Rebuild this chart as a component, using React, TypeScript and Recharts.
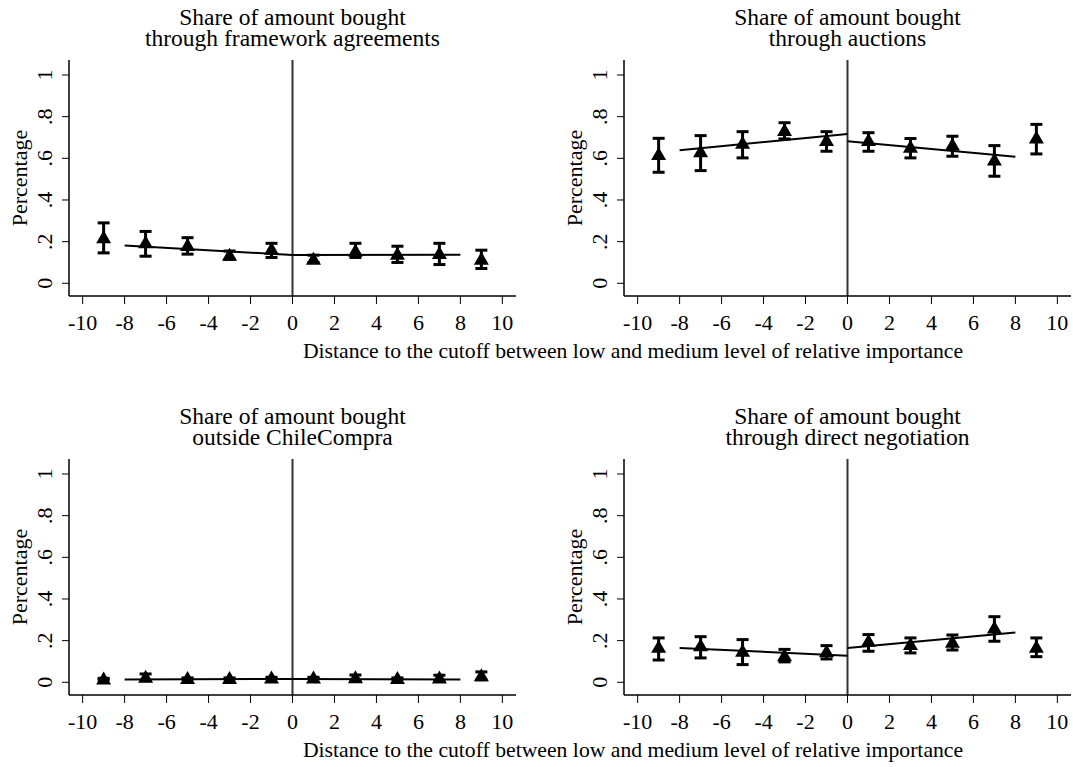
import React from 'react'
import {
  ComposedChart,
  Scatter,
  ErrorBar,
  XAxis,
  YAxis,
  ReferenceLine,
} from 'recharts'

const SERIF = '"Liberation Serif", "Times New Roman", Times, serif'

// bins (distance to cutoff)
const bins = [-9, -7, -5, -3, -1, 1, 3, 5, 7, 9]
const xTicks = [-10, -8, -6, -4, -2, 0, 2, 4, 6, 8, 10]
const yTicks = [0, 0.2, 0.4, 0.6, 0.8, 1]
const yTickLabels = ['0', '.2', '.4', '.6', '.8', '1']
const fitLeftX = [-8, 0]
const fitRightX = [0, 8]

// framework agreements
const fwMean = [0.219, 0.195, 0.182, 0.135, 0.163, 0.116, 0.155, 0.14, 0.143, 0.116]
const fwLo = [0.146, 0.13, 0.14, 0.115, 0.124, 0.1, 0.124, 0.1, 0.09, 0.071]
const fwHi = [0.29, 0.249, 0.219, 0.155, 0.192, 0.135, 0.192, 0.178, 0.192, 0.159]
const fwFitL = [0.181, 0.136]
const fwFitR = [0.136, 0.137]

// auctions
const auMean = [0.618, 0.632, 0.672, 0.733, 0.685, 0.685, 0.653, 0.664, 0.592, 0.698]
const auLo = [0.533, 0.541, 0.602, 0.693, 0.634, 0.634, 0.602, 0.61, 0.514, 0.621]
const auHi = [0.696, 0.709, 0.728, 0.771, 0.728, 0.723, 0.695, 0.706, 0.661, 0.763]
const auFitL = [0.639, 0.717]
const auFitR = [0.682, 0.608]

// outside ChileCompra
const ocMean = [0.016, 0.024, 0.018, 0.018, 0.021, 0.021, 0.022, 0.018, 0.021, 0.031]
const ocLo = [0.013, 0.008, 0.015, 0.015, 0.018, 0.018, 0.009, 0.015, 0.008, 0.012]
const ocHi = [0.019, 0.04, 0.021, 0.021, 0.024, 0.024, 0.035, 0.021, 0.034, 0.05]
const ocFitL = [0.014, 0.016]
const ocFitR = [0.016, 0.014]

// direct negotiation
const dnMean = [0.168, 0.176, 0.149, 0.128, 0.147, 0.197, 0.181, 0.192, 0.261, 0.168]
const dnLo = [0.107, 0.117, 0.085, 0.098, 0.112, 0.149, 0.141, 0.155, 0.197, 0.123]
const dnHi = [0.213, 0.219, 0.205, 0.158, 0.176, 0.229, 0.213, 0.227, 0.315, 0.213]
const dnFitL = [0.165, 0.128]
const dnFitR = [0.165, 0.239]

const X_DOMAIN: [number, number] = [-10.65, 10.65]
const Y_DOMAIN: [number, number] = [-0.061, 1.072]

function Triangle(props: any) {
  const { cx, cy } = props
  if (cx == null || cy == null) return <g />
  return (
    <path
      d={`M${cx},${cy - 7.5} L${cx + 7.5},${cy + 5.5} L${cx - 7.5},${cy + 5.5} Z`}
      fill="#000"
    />
  )
}

function YTick(props: any) {
  const { x, y, payload } = props
  const i = yTicks.indexOf(payload.value)
  return (
    <text
      x={x}
      y={y}
      transform={`rotate(-90 ${x} ${y})`}
      textAnchor="middle"
      fontSize={22}
      fontFamily={SERIF}
      fill="#000"
    >
      {i >= 0 ? yTickLabels[i] : payload.value}
    </text>
  )
}

interface PanelProps {
  left: number
  top: number
  mean: number[]
  lo: number[]
  hi: number[]
  fitL: number[]
  fitR: number[]
}

function Panel({ left, top, mean, lo, hi, fitL, fitR }: PanelProps) {
  const points = bins.map((x, i) => ({
    x,
    y: mean[i],
    err: [mean[i] - lo[i], hi[i] - mean[i]],
  }))
  const lineL = fitLeftX.map((x, i) => ({ x, y: fitL[i] }))
  const lineR = fitRightX.map((x, i) => ({ x, y: fitR[i] }))
  const axisStroke = { stroke: '#000', strokeWidth: 1.5 }

  return (
    <div style={{ position: 'absolute', left, top }}>
      <ComposedChart
        width={518}
        height={290}
        margin={{ top: 10, right: 2, bottom: 0, left: 0 }}
      >
        <XAxis
          dataKey="x"
          type="number"
          domain={X_DOMAIN}
          ticks={xTicks}
          allowDataOverflow
          height={44}
          tickSize={8}
          tickMargin={10}
          axisLine={axisStroke}
          tickLine={{ stroke: '#000', strokeWidth: 1 }}
          tick={{ fill: '#000', fontSize: 22, fontFamily: SERIF }}
          interval={0}
        />
        <XAxis
          xAxisId="top"
          orientation="top"
          type="number"
          domain={X_DOMAIN}
          allowDataOverflow
          height={0}
          tick={false}
          tickLine={false}
          axisLine={axisStroke}
        />
        <YAxis
          dataKey="y"
          type="number"
          domain={Y_DOMAIN}
          ticks={yTicks}
          allowDataOverflow
          width={69}
          tickSize={7}
          tickMargin={10}
          axisLine={axisStroke}
          tickLine={{ stroke: '#000', strokeWidth: 1 }}
          tick={(p: any) => <YTick {...p} />}
          interval={0}
        />
        <YAxis
          yAxisId="right"
          orientation="right"
          type="number"
          domain={Y_DOMAIN}
          allowDataOverflow
          width={0}
          tick={false}
          tickLine={false}
          axisLine={axisStroke}
        />
        <ReferenceLine x={0} stroke="#333" strokeWidth={2} />
        <Scatter
          data={lineL}
          line={{ stroke: '#000', strokeWidth: 2 }}
          shape={() => <g />}
          isAnimationActive={false}
        />
        <Scatter
          data={lineR}
          line={{ stroke: '#000', strokeWidth: 2 }}
          shape={() => <g />}
          isAnimationActive={false}
        />
        <Scatter data={points} shape={Triangle} isAnimationActive={false}>
          <ErrorBar
            dataKey="err"
            direction="y"
            width={6}
            strokeWidth={3}
            stroke="#000"
            isAnimationActive={false}
          />
        </Scatter>
      </ComposedChart>
    </div>
  )
}

const txt = { fontFamily: SERIF, fill: '#000', textAnchor: 'middle' as const }

function Labels() {
  const titles = [
    { x: 292.5, y: 25, l1: 'Share of amount bought', l2: 'through framework agreements' },
    { x: 847.5, y: 25, l1: 'Share of amount bought', l2: 'through auctions' },
    { x: 292.5, y: 424, l1: 'Share of amount bought', l2: 'outside ChileCompra' },
    { x: 847.5, y: 424, l1: 'Share of amount bought', l2: 'through direct negotiation' },
  ]
  const yLabels = [
    { x: 27, y: 178 },
    { x: 582, y: 178 },
    { x: 27, y: 577 },
    { x: 582, y: 577 },
  ]
  const xLabel = 'Distance to the cutoff between low and medium level of relative importance'
  return (
    <svg
      width={1073}
      height={767}
      style={{ position: 'absolute', left: 0, top: 0, pointerEvents: 'none' }}
    >
      {titles.map((t, i) => (
        <g key={i}>
          <text x={t.x} y={t.y} fontSize={23.5} {...txt}>{t.l1}</text>
          <text x={t.x} y={t.y + 21} fontSize={23.5} {...txt}>{t.l2}</text>
        </g>
      ))}
      {yLabels.map((p, i) => (
        <text
          key={i}
          x={p.x}
          y={p.y}
          fontSize={22}
          transform={`rotate(-90 ${p.x} ${p.y})`}
          {...txt}
        >
          Percentage
        </text>
      ))}
      <text x={633} y={358} fontSize={21.7} {...txt}>{xLabel}</text>
      <text x={633} y={757} fontSize={21.7} {...txt}>{xLabel}</text>
    </svg>
  )
}

export default function App() {
  return (
    <div
      style={{
        position: 'absolute',
        left: 0,
        top: 0,
        width: 1073,
        height: 767,
        background: '#fff',
        overflow: 'hidden',
      }}
    >
      <Panel left={0} top={50} mean={fwMean} lo={fwLo} hi={fwHi} fitL={fwFitL} fitR={fwFitR} />
      <Panel left={555} top={50} mean={auMean} lo={auLo} hi={auHi} fitL={auFitL} fitR={auFitR} />
      <Panel left={0} top={449} mean={ocMean} lo={ocLo} hi={ocHi} fitL={ocFitL} fitR={ocFitR} />
      <Panel left={555} top={449} mean={dnMean} lo={dnLo} hi={dnHi} fitL={dnFitL} fitR={dnFitR} />
      <Labels />
    </div>
  )
}
